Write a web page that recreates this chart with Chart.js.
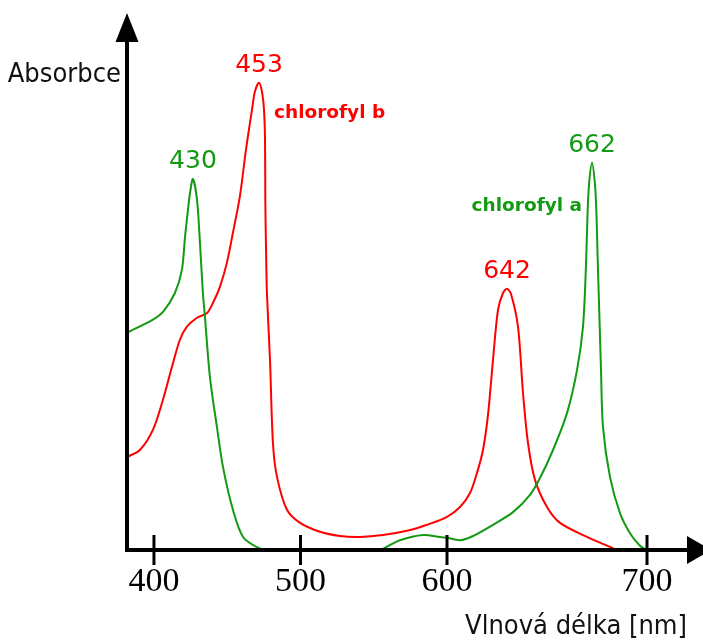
<!DOCTYPE html>
<html><head><meta charset="utf-8">
<script src="https://cdn.jsdelivr.net/npm/chart.js@4"></script>
<style>html,body{margin:0;padding:0;background:#fff}</style>
</head><body>
<canvas id="c" width="703" height="640"></canvas>
<script>
// ---- data (axis readings) ----
const tickValues = [400, 500, 600, 700];

const wavelengthA = [381.6, 399.3, 406.3, 414.3, 419.1, 421.2, 423.2, 424.6, 426.6, 429.4, 431.4, 433.4, 434.8, 438.2, 443.0, 447.1, 453.9, 460.8, 470.3, 476.5,
  554.3, 558.4, 567.9, 583.6, 595.2, 600, 606.5, 613, 623, 633, 641.5, 646.5, 653, 660, 665, 668, 669.5, 670.25, 671, 672.5, 674, 674.75, 675.25, 676.25, 677, 678, 681.5, 686.5, 691.5, 696.5, 700];
const absorbanceA = [0.465, 0.493, 0.510, 0.550, 0.600, 0.670, 0.728, 0.764, 0.794, 0.749, 0.657, 0.550, 0.499, 0.370, 0.263, 0.178, 0.086, 0.028, 0.006, 0,
  0, 0.006, 0.021, 0.032, 0.028, 0.026, 0.021, 0.030, 0.054, 0.081, 0.118, 0.154, 0.214, 0.293, 0.385, 0.478, 0.610, 0.717, 0.782, 0.829, 0.782, 0.717, 0.636, 0.493, 0.385, 0.263, 0.156, 0.079, 0.036, 0.009, 0];

const wavelengthB = [381.6, 390.4, 399.3, 406.1, 412.3, 417.7, 422.5, 429.4, 436.2, 440.3, 445.0, 449.8, 453.9, 458.7, 462.8, 466.9, 468.9, 471.7, 473.7, 475.1, 475.8, 476.0, 476.5, 477.1, 479.2, 481.2, 484.0, 490.8, 499.7, 513.3, 527.0, 540.6, 556.3, 572.7, 586.3,
  600, 606.5, 611.5, 615, 618, 620.5, 623, 625.5, 628, 630, 632, 635.5, 638, 640.5, 644, 650, 656.5, 670, 685];
const absorbanceB = [0.199, 0.214, 0.257, 0.321, 0.392, 0.450, 0.478, 0.497, 0.507, 0.529, 0.563, 0.615, 0.679, 0.758, 0.857, 0.942, 0.981, 1.000, 0.981, 0.942, 0.878, 0.749, 0.642, 0.550, 0.407, 0.229, 0.156, 0.086, 0.058, 0.039, 0.030, 0.028, 0.032, 0.041, 0.054,
  0.071, 0.092, 0.122, 0.165, 0.214, 0.289, 0.407, 0.514, 0.550, 0.559, 0.548, 0.478, 0.336, 0.229, 0.150, 0.092, 0.058, 0.028, 0];

const seriesNames = ['chlorofyl a', 'chlorofyl b'];
const peakLabels = ['430', '453', '642', '662'];
const peakWavelengths = [426.6, 471.7, 630, 672.5];
const peakSeries = [0, 1, 1, 0];

const GREEN = '#139a13', RED = '#ff0000';

// ---- scale whose 600-700 segment is drawn wider, as in the figure ----
class WarpScale extends Chart.LinearScale {
  _u(v) { const at = 600, f = 1.365; return v <= at ? v : at + (v - at) * f; }
  _iu(u) { const at = 600, f = 1.365; return u <= at ? u : at + (u - at) / f; }
  getPixelForValue(v) {
    const a = this._u(this.min), b = this._u(this.max);
    return this.getPixelForDecimal((this._u(v) - a) / (b - a));
  }
  getValueForPixel(p) {
    const a = this._u(this.min), b = this._u(this.max);
    return this._iu(a + this.getDecimalForPixel(p) * (b - a));
  }
}
WarpScale.id = 'warp';
WarpScale.defaults = {};
Chart.register(WarpScale);

const toPts = (xs, ys) => xs.map((x, i) => ({x, y: ys[i]}));
const series = [toPts(wavelengthA, absorbanceA), toPts(wavelengthB, absorbanceB)];

const decor = {
  id: 'decor',
  afterDraw(chart) {
    const ctx = chart.ctx, xs = chart.scales.x, ys = chart.scales.y, ca = chart.chartArea;
    ctx.save();
    // tick marks crossing the axis
    ctx.strokeStyle = '#000'; ctx.lineWidth = 3;
    xs.ticks.forEach(t => {
      const px = xs.getPixelForValue(t.value);
      ctx.beginPath(); ctx.moveTo(px, ca.bottom - 15); ctx.lineTo(px, ca.bottom + 15); ctx.stroke();
    });
    // arrow heads
    ctx.fillStyle = '#000';
    ctx.beginPath(); ctx.moveTo(ca.left - 11.5, ca.top + 6); ctx.lineTo(ca.left + 11.5, ca.top + 6); ctx.lineTo(ca.left, ca.top - 23); ctx.closePath(); ctx.fill();
    ctx.beginPath(); ctx.moveTo(ca.right, ca.bottom - 14); ctx.lineTo(ca.right, ca.bottom + 14); ctx.lineTo(ca.right + 24, ca.bottom); ctx.closePath(); ctx.fill();
    // y axis title
    ctx.fillStyle = '#111';
    ctx.font = "27px 'DejaVu Sans Condensed', 'DejaVu Sans'";
    ctx.textAlign = 'right'; ctx.textBaseline = 'alphabetic';
    ctx.fillText('Absorbce', ca.left - 6, ca.top + 46);
    // peak labels
    ctx.font = "25px 'DejaVu Sans'";
    ctx.textAlign = 'center';
    const peakPix = [];
    peakLabels.forEach((txt, i) => {
      const s = peakSeries[i];
      const wl = s === 0 ? wavelengthA : wavelengthB;
      const ab = s === 0 ? absorbanceA : absorbanceB;
      const idx = wl.indexOf(peakWavelengths[i]);
      const px = xs.getPixelForValue(wl[idx]), py = ys.getPixelForValue(ab[idx]);
      peakPix.push([px, py]);
      ctx.fillStyle = s === 0 ? GREEN : RED;
      ctx.fillText(txt, px, py - 11);
    });
    // series names
    ctx.font = "bold 18.5px 'DejaVu Sans'";
    ctx.fillStyle = RED; ctx.textAlign = 'left';
    ctx.fillText(seriesNames[1], peakPix[1][0] + 15, peakPix[1][1] + 35);
    ctx.fillStyle = GREEN; ctx.textAlign = 'right';
    ctx.fillText(seriesNames[0], peakPix[3][0] - 10, peakPix[3][1] + 48);
    ctx.restore();
  }
};

new Chart(document.getElementById('c'), {
  type: 'line',
  data: {
    datasets: [
      {label: seriesNames[0], data: series[0], borderColor: GREEN, borderWidth: 2, pointRadius: 0, fill: false, tension: 0.3},
      {label: seriesNames[1], data: series[1], borderColor: RED, borderWidth: 2, pointRadius: 0, fill: false, tension: 0.3}
    ]
  },
  options: {
    responsive: false,
    animation: false,
    events: [],
    devicePixelRatio: 1,
    layout: {padding: {top: 36, right: 16, left: 0, bottom: 0}},
    plugins: {legend: {display: false}, tooltip: {enabled: false}},
    scales: {
      x: {
        type: 'warp', min: 381.6, max: 720,
        afterBuildTicks: s => { s.ticks = tickValues.map(v => ({value: v})); },
        afterFit: s => { s.height = 90; },
        grid: {display: false, drawTicks: false},
        border: {display: true, color: '#000', width: 4, z: 1},
        ticks: {color: '#000', padding: 12, font: {family: "'Liberation Serif'", size: 34}, callback: v => String(v), maxRotation: 0, autoSkip: false},
        title: {display: true, text: 'Vlnová délka [nm]', align: 'end', color: '#111',
          font: {family: "'DejaVu Sans Condensed', 'DejaVu Sans'", size: 27, lineHeight: 1}, padding: {top: 0, bottom: 0}}
      },
      y: {
        type: 'linear', min: 0, max: 1.1,
        afterFit: s => { s.width = 127; },
        grid: {display: false, drawTicks: false},
        border: {display: true, color: '#000', width: 4, z: 1},
        ticks: {display: false}
      }
    }
  },
  plugins: [decor]
});
</script>
</body></html>
